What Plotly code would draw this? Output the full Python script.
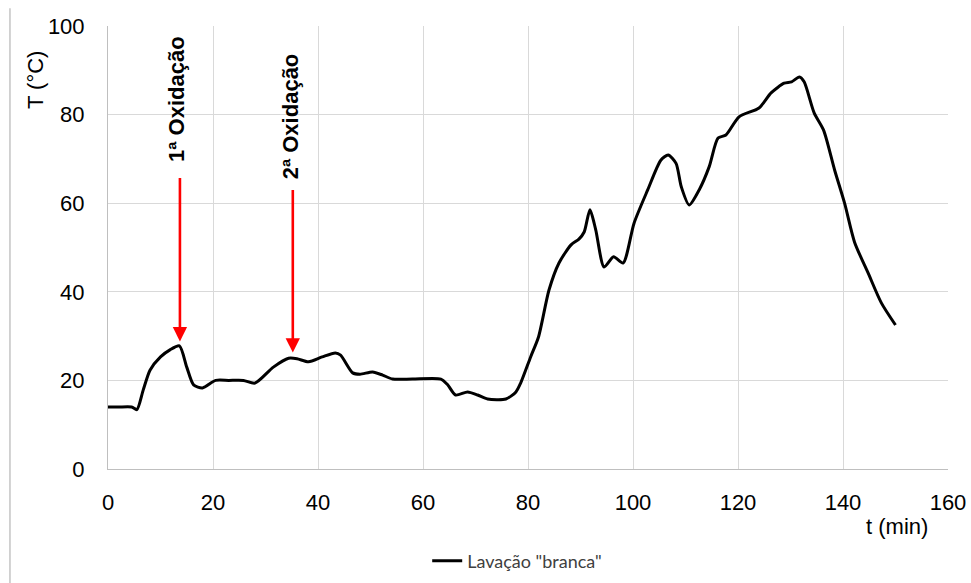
import plotly.graph_objects as go

# Data
t_min = [0, 2, 4.5, 5.5, 6.7, 8, 10, 11.8, 13.6, 15, 16.3, 18, 20.5, 23, 25.8, 28,
         31.5, 34.4, 36, 38.2, 40.8, 43.3, 44.3, 46.6, 48, 50.4, 52.3, 54.2, 58, 63.4,
         64.7, 66.2, 68.5, 70.4, 72.3, 75.8, 77.7, 78.6, 80.5, 82, 84, 85.9, 88.2, 89.7,
         90.7, 91.8, 92.9, 94.5, 96.3, 98.1, 100.2, 102.8, 105.3, 106.7, 108.2, 109.2,
         110.7, 112.6, 114.5, 116.2, 117.7, 120.2, 124, 126.3, 128.8, 130.2, 131.7,
         132.6, 134.5, 136.3, 138.4, 140.3, 142.2, 144.8, 147.3, 150]
temp_c = [14, 14, 14, 13.4, 17.8, 22.3, 25.3, 26.9, 27.8, 23, 19, 18.3, 20, 20, 20, 19.4,
          23, 25, 24.9, 24.2, 25.3, 26.2, 25.7, 21.7, 21.4, 21.9, 21.2, 20.3, 20.3, 20.3,
          19, 16.7, 17.4, 16.7, 15.8, 15.8, 17.4, 19.4, 25.3, 29.8, 40.4, 46.5, 50.6, 51.9,
          53.5, 58.5, 54, 45.6, 47.9, 46.5, 55.5, 63, 69.7, 70.9, 69, 63.7,
          59.6, 63, 68.2, 74.7, 75.4, 79.5, 81.5, 84.9, 87.1, 87.4, 88.5,
          87.4, 80.4, 76.5, 67.5, 60, 51.2, 44.2, 37.5, 32.5]
series_name = 'Lavação "branca"'

x_ticks = [0, 20, 40, 60, 80, 100, 120, 140, 160]
y_ticks = [0, 20, 40, 60, 80, 100]

# Oxidation events: label, arrow x, arrow tail T, arrow tip T, label x, label bottom T
events = ["1ª Oxidação", "2ª Oxidação"]
event_x = [13.7, 35.2]
event_tail = [66.0, 63.3]
event_tip = [28.8, 26.3]
label_x = [12.9, 34.7]
label_bottom = [68.8, 65.0]

AX = "Liberation Sans, Arial, sans-serif"

fig = go.Figure()
fig.add_trace(go.Scatter(
    x=t_min, y=temp_c, mode="lines", name=series_name,
    line=dict(color="black", width=3, shape="spline", smoothing=0.7),
))

for i, lab in enumerate(events):
    fig.add_annotation(
        x=event_x[i], y=event_tip[i], ax=event_x[i], ay=event_tail[i],
        xref="x", yref="y", axref="x", ayref="y",
        showarrow=True, arrowhead=2, arrowsize=1.1, arrowwidth=2.6,
        arrowcolor="#ff0000", text="",
    )
    fig.add_annotation(
        x=label_x[i], y=label_bottom[i], xref="x", yref="y",
        text="<b>" + lab + "</b>", showarrow=False, textangle=-90,
        xanchor="center", yanchor="bottom",
        font=dict(family=AX, size=22, color="black"),
    )

# axis titles
fig.add_annotation(x=-0.087, y=0.88, xref="paper", yref="paper", text="T (°C)",
                   showarrow=False, textangle=-90, xanchor="center", yanchor="middle",
                   font=dict(family=AX, size=22, color="black"))
fig.add_annotation(x=0.939, y=-0.13, xref="paper", yref="paper", text="t (min)",
                   showarrow=False, xanchor="center", yanchor="middle",
                   font=dict(family=AX, size=22, color="black"))

# left border line of the chart area
fig.add_shape(type="line", xref="paper", yref="paper",
              x0=-0.1167, x1=-0.1167, y0=1.04, y1=-0.26,
              line=dict(color="#a6a6a6", width=1))

fig.update_layout(
    width=971, height=583,
    margin=dict(l=108, r=23, t=26, b=114, autoexpand=False),
    plot_bgcolor="white", paper_bgcolor="white",
    showlegend=True,
    legend=dict(orientation="h", x=0.380, y=-0.208, xanchor="left", yanchor="middle",
                font=dict(family="Lato, Noto Sans, sans-serif", size=18, color="#404040"),
                bgcolor="rgba(0,0,0,0)"),
    xaxis=dict(range=[0, 160], tickvals=x_ticks, showgrid=True, gridcolor="#d9d9d9",
               gridwidth=1, zeroline=False, showline=True, linecolor="#bfbfbf",
               linewidth=1, ticks="", ticklabelstandoff=14, automargin=False,
               tickfont=dict(family=AX, size=22, color="black")),
    yaxis=dict(range=[0, 100], tickvals=y_ticks, showgrid=True, gridcolor="#d9d9d9",
               gridwidth=1, zeroline=False, showline=True, linecolor="#bfbfbf",
               linewidth=1, ticks="", ticklabelstandoff=18, automargin=False,
               tickfont=dict(family=AX, size=22, color="black")),
)

fig.write_html("out.html")
